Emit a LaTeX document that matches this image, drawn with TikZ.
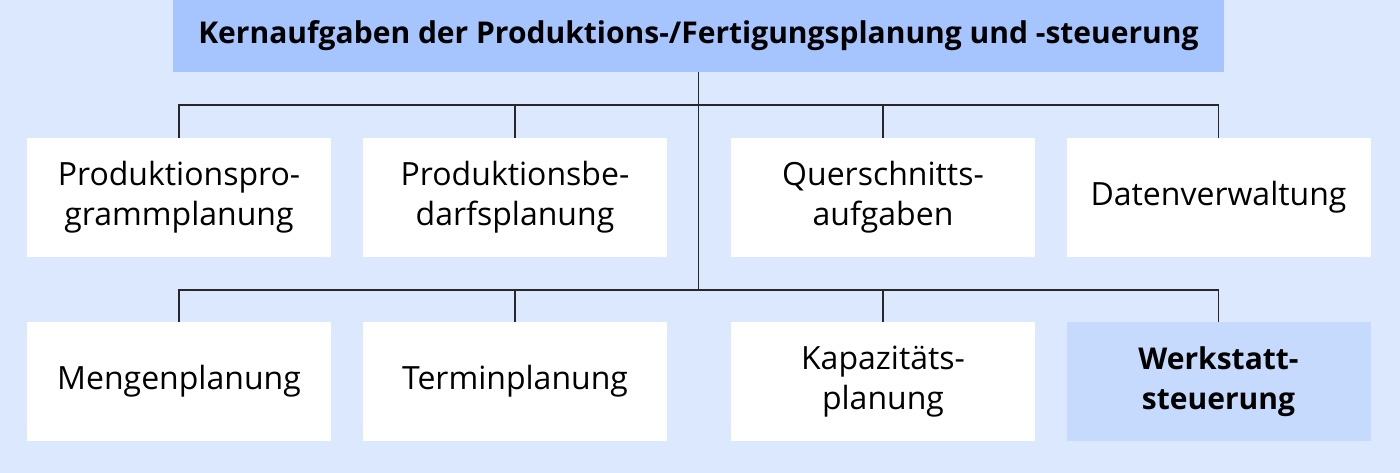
\documentclass[tikz,border=0pt]{standalone}
\usepackage{fontspec}
\setmainfont{Open Sans}
\begin{document}
\begin{tikzpicture}[x=1pt,y=-1pt,
  box/.style={fill=white,minimum width=304pt,minimum height=119pt,inner sep=0pt,outer sep=0pt,align=center,font=\fontsize{32}{40}\selectfont},
  hibox/.style={box,fill=hiblue,font=\fontsize{30}{40}\selectfont\bfseries},
  titlebox/.style={fill=titleblue,minimum width=1051pt,minimum height=72pt,inner sep=0pt,outer sep=0pt,font=\fontsize{30}{40}\selectfont\bfseries},
  conn/.style={draw=linegray,line width=1.6pt}]
\definecolor{bgblue}{RGB}{220,232,254}
\definecolor{titleblue}{RGB}{166,197,255}
\definecolor{hiblue}{RGB}{198,218,253}
\definecolor{linegray}{RGB}{40,40,40}
\fill[bgblue] (0,0) rectangle (1400,473);
\useasboundingbox (0,0) rectangle (1400,473);
\node[titlebox] (t) at (698.5,36) {Kernaufgaben der Produktions-/Fertigungsplanung und -steuerung};
\node[box] (a1) at (179,197.5) {Produktionspro-\\grammplanung};
\node[box] (a2) at (515,197.5) {Produktionsbe-\\darfsplanung};
\node[box] (a3) at (883,197.5) {Querschnitts-\\aufgaben};
\node[box] (a4) at (1218.5,197.5) {Datenverwaltung};
\node[box] (b1) at (179,381.5) {Mengenplanung};
\node[box] (b2) at (515,381.5) {Terminplanung};
\node[box] (b3) at (883,381.5) {Kapazitäts-\\planung};
\node[hibox] (b4) at (1218.5,381.5) {Werkstatt-\\steuerung};
\coordinate (busA) at (698.5,105);
\coordinate (busB) at (698.5,290);
\draw[conn] (t.south) -- (busB);
\draw[conn] (a1.north) |- (busA) -| (a4.north);
\draw[conn] (a2.north) -- (a2.north |- busA);
\draw[conn] (a3.north) -- (a3.north |- busA);
\draw[conn] (b1.north) |- (busB) -| (b4.north);
\draw[conn] (b2.north) -- (b2.north |- busB);
\draw[conn] (b3.north) -- (b3.north |- busB);
\end{tikzpicture}
\end{document}
